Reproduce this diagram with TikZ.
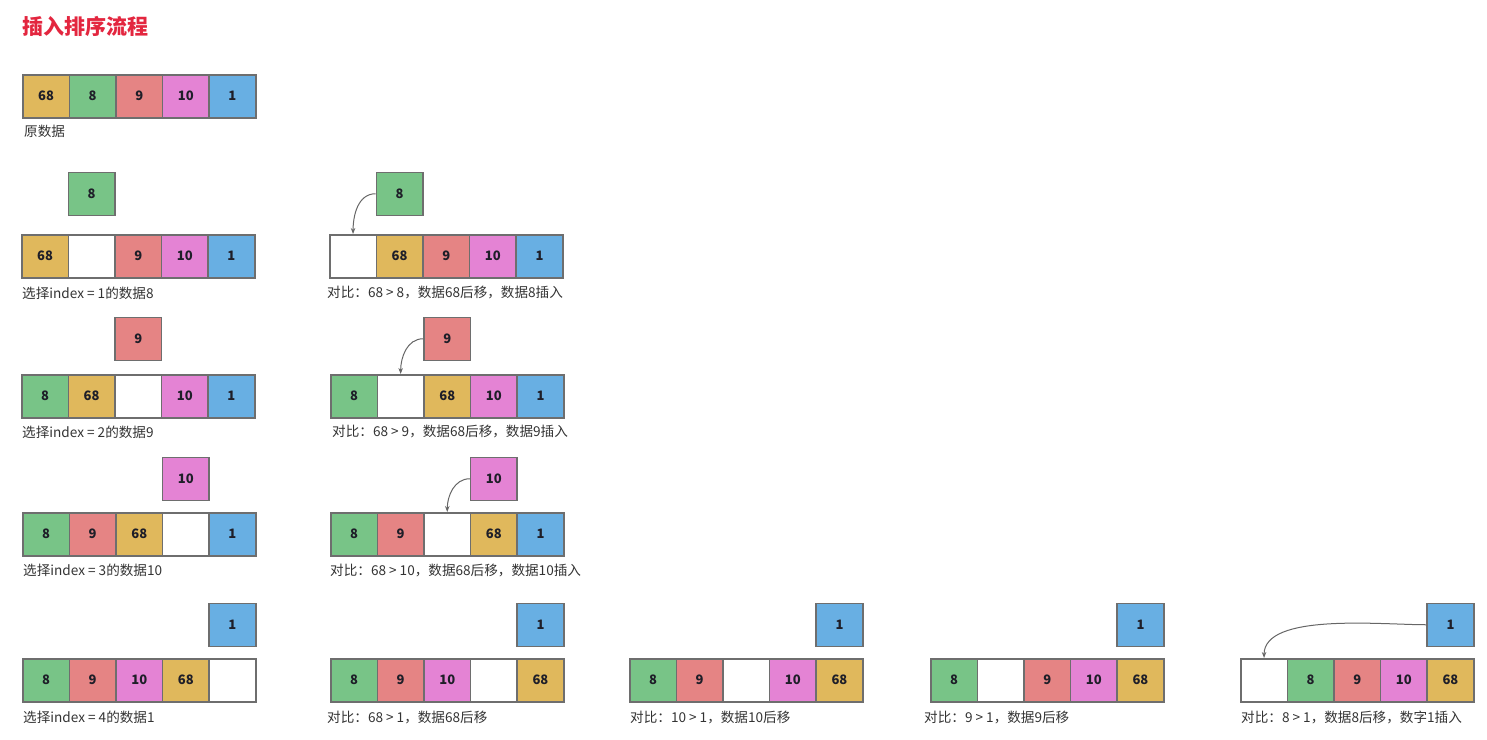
\documentclass[tikz,border=0pt]{standalone}
\usepackage{fontspec}
\setmainfont{Noto Sans CJK SC}
\usetikzlibrary{arrows.meta,positioning}
\definecolor{c68}{HTML}{E0B85C}
\definecolor{c8}{HTML}{78C487}
\definecolor{c9}{HTML}{E58484}
\definecolor{c10}{HTML}{E483D4}
\definecolor{c1}{HTML}{68AFE3}
\definecolor{ce}{HTML}{FFFFFF}
\definecolor{bordergray}{HTML}{6E6E6E}
\definecolor{numtext}{HTML}{1E1E28}
\definecolor{labeltext}{HTML}{333333}
\definecolor{arrowgray}{HTML}{666666}
\definecolor{titlered}{HTML}{E3263F}
\tikzset{
	cell/.style={draw=bordergray,line width=1.5pt,minimum width=46.6pt,minimum height=43pt,
		inner sep=0pt,anchor=north west,text=numtext,font=\fontsize{13}{13}\selectfont\bfseries},
	tip/.style={anchor=west,inner sep=0pt,text=labeltext,font=\fontsize{13.6}{13.6}\selectfont},
	move/.style={draw=arrowgray,line width=1pt,-{Stealth[length=6pt,width=4.5pt]}},
}
\begin{document}
\begin{tikzpicture}[x=1pt,y=1pt]
		\useasboundingbox (0,0) rectangle (1487,-739);
		\node[anchor=west,inner sep=0pt,text=titlered,font=\fontsize{21}{21}\selectfont\bfseries] (title) at (22,-26) {插入排序流程};
		\def\W{46.6}%单元格宽度
		% 各行数组：名称/左上角x/左上角y/单元格
		\foreach \nm/\x/\y/\list in {
			a0/22/74/{c68/68,c8/8,c9/9,c10/10,c1/1},
			a1/21/234/{c68/68,ce/,c9/9,c10/10,c1/1},
			b1/329/234/{ce/,c68/68,c9/9,c10/10,c1/1},
			a2/21/374/{c8/8,c68/68,ce/,c10/10,c1/1},
			b2/330/374/{c8/8,ce/,c68/68,c10/10,c1/1},
			a3/22/512/{c8/8,c9/9,c68/68,ce/,c1/1},
			b3/330/512/{c8/8,c9/9,ce/,c68/68,c1/1},
			a4/22/658/{c8/8,c9/9,c10/10,c68/68,ce/},
			b4/330/658/{c8/8,c9/9,c10/10,ce/,c68/68},
			c4/629/658/{c8/8,c9/9,ce/,c10/10,c68/68},
			d4/930/658/{c8/8,ce/,c9/9,c10/10,c68/68},
			e4/1240/658/{ce/,c8/8,c9/9,c10/10,c68/68}}
			\foreach \c/\t [count=\i] in \list
				\node[cell,fill=\c] (\nm-\i) at ({\x+(\i-1)*\W},-\y) {\t};
		% 待插入的数据：数组/位置/间距
		\foreach \nm/\k/\g/\c/\t in {a1/2/18/c8/8,b1/2/18/c8/8,a2/3/13/c9/9,b2/3/13/c9/9,
			a3/4/11/c10/10,b3/4/11/c10/10,a4/5/11/c1/1,b4/5/11/c1/1,c4/5/11/c1/1,d4/5/11/c1/1,e4/5/11/c1/1}
			\node[cell,anchor=south west,fill=\c] (\nm-f) at ([yshift=\g]\nm-\k.north west) {\t};
		% 插入箭头
		\draw[move] (b1-f.west) to[out=180,in=90] (b1-1.north);
		\draw[move] (b2-f.west) to[out=180,in=90] (b2-2.north);
		\draw[move] (b3-f.west) to[out=180,in=90] (b3-3.north);
		\draw[move] (e4-f.west) to[out=180,in=90,looseness=.7] (e4-1.north);
		% 说明文字
		\foreach \nm/\x/\y/\t in {
			l0/24/131/原数据,
			l1/22/293/选择index = 1的数据8,
			m1/327/293/对比：68 > 8，数据68后移，数据8插入,
			l2/22/432/选择index = 2的数据9,
			m2/332/432/对比：68 > 9，数据68后移，数据9插入,
			l3/23/570/选择index = 3的数据10,
			m3/330/570/对比：68 > 10，数据68后移，数据10插入,
			l4/23/717/选择index = 4的数据1,
			m4/327/717/对比：68 > 1，数据68后移,
			n4/630/717/对比：10 > 1，数据10后移,
			o4/924/717/对比：9 > 1，数据9后移,
			p4/1241/717/对比：8 > 1，数据8后移，数字1插入}
			\node[tip] (\nm) at (\x,-\y) {\t};
	\end{tikzpicture}
\end{document}
